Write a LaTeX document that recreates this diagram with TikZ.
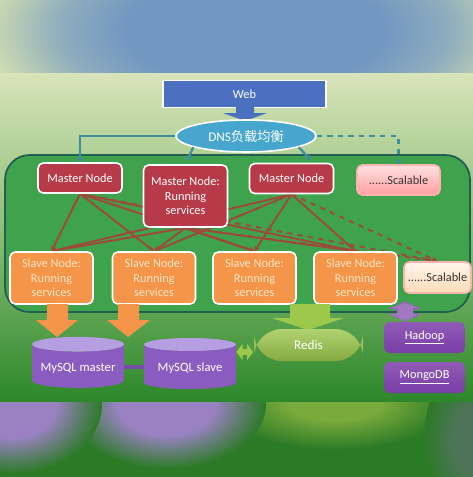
\documentclass[tikz,border=0pt]{standalone}
\usepackage{fontspec}
\setmainfont{Carlito}
\newfontfamily\cjk{Noto Sans CJK SC}
\usetikzlibrary{shapes.geometric,arrows.meta}

\definecolor{bgtop}{HTML}{CFDDB2}
\definecolor{bgpale}{HTML}{D8E4BA}
\definecolor{bgmid}{HTML}{86BC72}
\definecolor{bggreen}{HTML}{2C872A}
\definecolor{blobblue}{HTML}{7298C2}
\definecolor{webblue}{HTML}{4C70C0}
\definecolor{dnsblue}{HTML}{46A6CE}
\definecolor{dnsline}{HTML}{3E8F9C}
\definecolor{boxgreen}{HTML}{3FA24C}
\definecolor{boxedge}{HTML}{235E52}
\definecolor{masterred}{HTML}{B63A48}
\definecolor{slaveorange}{HTML}{F4954A}
\definecolor{slavetext}{HTML}{FCE6C4}
\definecolor{linkred}{HTML}{9E4A3A}
\definecolor{dbpurple}{HTML}{8A5CC0}
\definecolor{dbtop}{HTML}{B69EE2}
\definecolor{nosqlpurple}{HTML}{7B3EA8}
\definecolor{redisgreen}{HTML}{9CC84C}
\definecolor{bandbase}{HTML}{2B7A26}
\definecolor{bandpurple}{HTML}{9A82C2}
\definecolor{bandolive}{HTML}{7AAA3C}
\definecolor{bandgrey}{HTML}{4E7458}

\pgfdeclareradialshading{skyblob}{\pgfpoint{0bp}{0bp}}{color(0bp)=(blobblue); color(12bp)=(blobblue);
  color(18bp)=(blobblue!70!bgtop); color(25bp)=(bgtop); color(50bp)=(bgtop)}
\pgfdeclareradialshading{purpleblob}{\pgfpoint{0bp}{0bp}}{color(0bp)=(bandpurple); color(12bp)=(bandpurple);
  color(25bp)=(bandbase); color(50bp)=(bandbase)}
\pgfdeclareradialshading{oliveblob}{\pgfpoint{0bp}{0bp}}{color(0bp)=(bandolive); color(10bp)=(bandolive);
  color(25bp)=(bandbase); color(50bp)=(bandbase)}
\pgfdeclareradialshading{greyblob}{\pgfpoint{0bp}{0bp}}{color(0bp)=(bandgrey); color(10bp)=(bandgrey);
  color(25bp)=(bandbase); color(50bp)=(bandbase)}

\pgfdeclarelayer{bg}
\pgfdeclarelayer{links}
\pgfsetlayers{bg,links,main}

\tikzset{
  box/.style={draw=white, line width=0.9pt, rounded corners=3pt, align=center,
    inner sep=1pt, font=\fontsize{7}{8.2}\selectfont},
  master/.style={box, fill=masterred, text=white, minimum width=1.68cm, minimum height=0.6cm},
  slave/.style={box, fill=slaveorange, text=slavetext, minimum width=1.66cm, minimum height=1.04cm},
  scalable/.style={box, draw=white!70!red, text=black!80, minimum height=0.6cm},
  nosql/.style={box, draw=none, top color=nosqlpurple!85!white, bottom color=nosqlpurple,
    text=white, minimum width=1.62cm, minimum height=0.62cm},
  db/.style={cylinder, shape border rotate=90, aspect=0.17, draw=none,
    cylinder uses custom fill, cylinder body fill=dbpurple, cylinder end fill=dbtop,
    text=white, minimum width=1.84cm, minimum height=1.02cm, font=\fontsize{7.2}{8}\selectfont},
  dnslink/.style={dnsline, line width=1.3pt, -{Stealth[length=3pt,width=4pt]}},
  link/.style={linkred, line width=1.1pt, -{Stealth[length=3pt,width=3pt]}},
}

\begin{document}
\begin{tikzpicture}[x=0.02cm, y=-0.02cm]
\useasboundingbox (0,0) rectangle (473,477);

\begin{pgfonlayer}{bg}
% reflections above and below
\fill[bgtop] (0,0) rectangle (473,73);
\begin{scope}
\clip (0,0) rectangle (473,73);
\shade[shading=skyblob] (255,30) ellipse (270 and 120);
\end{scope}
\shade[top color=bgpale, bottom color=bgmid] (0,73) rectangle (473,240);
\shade[top color=bgmid, bottom color=bggreen] (0,240) rectangle (473,402);
\fill[bandbase] (0,402) rectangle (473,477);
\begin{scope}
\clip (0,402) rectangle (473,477);
\shade[shading=oliveblob] (335,400) ellipse (120 and 50);
\shade[shading=purpleblob] (166,404) ellipse (100 and 65);
\shade[shading=purpleblob] (12,404) ellipse (90 and 70);
\shade[shading=greyblob] (472,440) ellipse (48 and 80);
\end{scope}
\draw[boxedge, line width=1pt, fill=boxgreen, rounded corners=14pt] (5,155) rectangle (470,312);
\end{pgfonlayer}

\node[box, fill=webblue, text=white, minimum width=3.26cm, minimum height=0.54cm,
  rounded corners=0pt] (web) at (244.5,94) {Web};
\fill[webblue] (236,107) -- (254,107) -- (254,113) -- (267,113) -- (245,121)
  -- (223,113) -- (236,113) -- cycle;
\node[ellipse, draw=white, line width=0.9pt, fill=dnsblue, text=white, minimum width=2.8cm,
  minimum height=0.64cm, inner sep=0pt, font=\fontsize{7.5}{9}\selectfont]
  (dns) at (246,136) {DNS{\cjk 负载均衡}};

\node[master] (m1) at (80,178) {Master Node};
\node[master, minimum height=1.24cm] (m2) at (185.5,196) {Master Node:\\Running\\services};
\node[master] (m3) at (291.5,178.5) {Master Node};
\node[scalable, top color=red!12!white, bottom color=red!38!white, minimum width=1.66cm]
  (sc1) at (398.5,180) {......Scalable};

\draw[dnslink] (dns.west) -| (m1.north);
\draw[dnslink, dashed] (dns.east) -| (sc1.north);
\draw[dnslink, shorten >=2pt] (dns.-168) -- (m2.north);
\draw[dnslink, shorten >=2pt] (dns.-12) -- (m3.36);

\node[slave] (s1) at (51.5,278) {Slave Node:\\Running\\services};
\node[slave] (s2) at (154,278) {Slave Node:\\Running\\services};
\node[slave] (s3) at (254.5,278) {Slave Node:\\Running\\services};
\node[slave] (s4) at (355.5,278) {Slave Node:\\Running\\services};
\node[scalable, top color=orange!8!white, bottom color=orange!28!white, minimum width=1.34cm,
  minimum height=0.62cm] (sc2) at (437.5,277.5) {......Scalable};

\begin{pgfonlayer}{links}
\foreach \m in {m1,m2,m3} {
  \foreach \s in {s1,s2,s3,s4}
    \draw[link] (\m.south) -- (\s.north);
  \draw[link, dashed] (\m.south) -- (sc2.north);
}
\end{pgfonlayer}

% block arrows
\fill[slaveorange] (47,304) -- (68,304) -- (68,320) -- (78,320) -- (57,337) -- (36,320)
  -- (47,320) -- cycle;
\fill[slaveorange] (118,304) -- (139,304) -- (139,320) -- (150,320) -- (128,337) -- (107,320)
  -- (118,320) -- cycle;
\fill[redisgreen] (290,304) -- (330,304) -- (330,318) -- (344,318) -- (308,330) -- (272,318)
  -- (290,318) -- cycle;
\draw[nosqlpurple!80!white, fill=nosqlpurple!70!white, dashed, line width=0.8pt]
  (405,302) -- (421,309) -- (413,309) -- (413,314) -- (421,314) -- (405,321) -- (389,314)
  -- (397,314) -- (397,309) -- (389,309) -- cycle;

\node[db] (mysqlm) at (78,368) {MySQL master};
\node[db] (mysqls) at (190,368.5) {MySQL slave};
\node[box, draw=none, rounded corners=16pt, top color=redisgreen!80!white,
  bottom color=redisgreen!85!black, text=white, minimum width=2.18cm, minimum height=0.64cm,
  font=\fontsize{7.5}{9}\selectfont] (redis) at (308.5,345) {Redis};
\node[nosql] (hadoop) at (424.5,337.5) {\underline{Hadoop}};
\node[nosql] (mongo) at (424.5,377.5) {\underline{MongoDB}};

\draw[dbpurple!85!black, line width=2.5pt] (mysqlm.east |- 0,367) -- (mysqls.west |- 0,367);
\draw[redisgreen, line width=3.2pt, {Triangle[length=3.5pt,width=9pt]}-{Triangle[length=3.5pt,width=9pt]}]
  (mysqls.east |- 0,352) -- (redis.west |- 0,352);
\end{tikzpicture}
\end{document}
